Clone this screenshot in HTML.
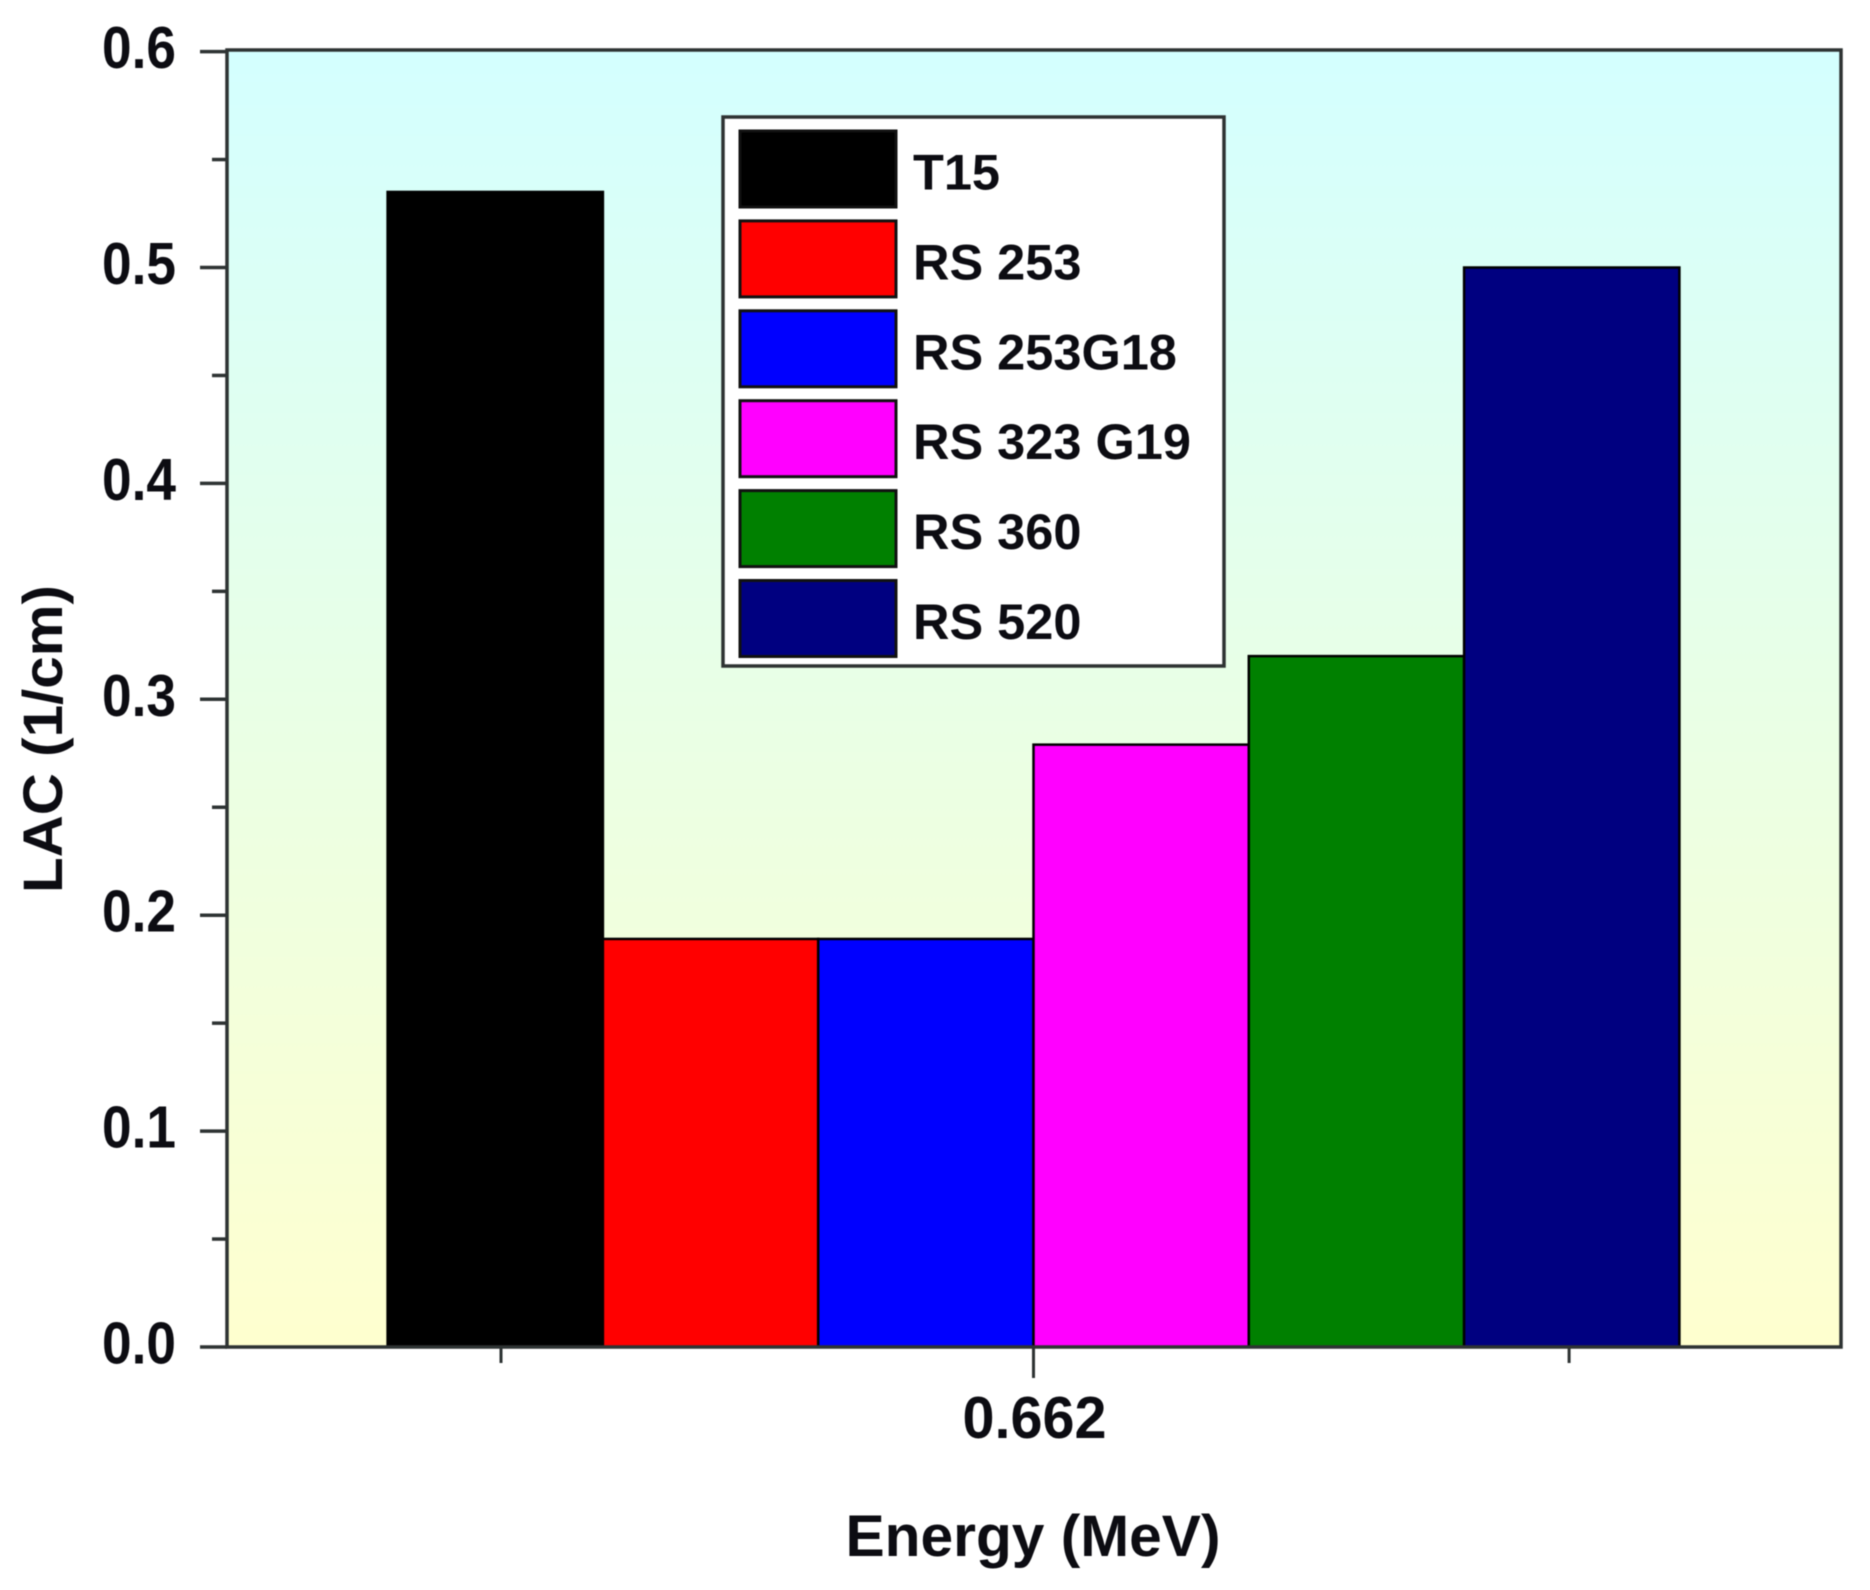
<!DOCTYPE html>
<html lang="en">
<head>
<meta charset="utf-8">
<title>LAC vs Energy</title>
<style>
html,body{margin:0;padding:0;background:#fff;width:1870px;height:1590px;overflow:hidden}
svg{display:block;filter:blur(.6px)}
text{font-family:"Liberation Sans",sans-serif;font-weight:bold;fill:#0c0c12}
</style>
</head>
<body>
<svg id="chart" width="1870" height="1590" viewBox="0 0 1870 1590" xmlns="http://www.w3.org/2000/svg">
<defs>
<linearGradient id="plot-gradient" x1="0" y1="0" x2="0" y2="1">
<stop offset="0" stop-color="#d4ffff"/>
<stop offset="0.5" stop-color="#e9ffe6"/>
<stop offset="1" stop-color="#ffffcf"/>
</linearGradient>
</defs>
<rect x="227" y="50" width="1614" height="1297" fill="url(#plot-gradient)"/>
<g id="bars"></g>
<g id="axes"></g>
<g id="legend"></g>
<text transform="translate(62,739) rotate(-90)" text-anchor="middle" font-size="56" textLength="308" lengthAdjust="spacingAndGlyphs">LAC (1/cm)</text>
<text x="1033" y="1556" text-anchor="middle" font-size="58" textLength="375" lengthAdjust="spacingAndGlyphs">Energy (MeV)</text>
</svg>
<script>
const categories = ["T15", "RS 253", "RS 253G18", "RS 323 G19", "RS 360", "RS 520"];
const lacValues = [0.535, 0.189, 0.189, 0.279, 0.32, 0.5];
const barColors = ["#000000", "#ff0000", "#0000ff", "#ff00ff", "#008000", "#000080"];
const yMajorTicks = [0, 0.1, 0.2, 0.3, 0.4, 0.5, 0.6];
const yMinorTicks = [0.05, 0.15, 0.25, 0.35, 0.45, 0.55];
const xMajorTicks = ["0.662"];

const NS = "http://www.w3.org/2000/svg";
const plot = {left: 227, right: 1841, top: 50, bottom: 1347};
const pixelsPerUnit = 2159;
const barStart = 387.6;
const barWidth = 215.3;

function yScale(v) {
  return plot.bottom - v * pixelsPerUnit;
}
function xBand(i) {
  return barStart + i * barWidth;
}
function make(tag, attrs, parent) {
  const el = document.createElementNS(NS, tag);
  for (const k in attrs) el.setAttribute(k, attrs[k]);
  parent.appendChild(el);
  return el;
}

const barsG = document.getElementById("bars");
const axesG = document.getElementById("axes");
const legendG = document.getElementById("legend");

lacValues.forEach(function (v, i) {
  const bar = make("rect", {
    x: xBand(i), y: yScale(v), width: barWidth, height: plot.bottom - yScale(v),
    fill: barColors[i], stroke: "#000", "stroke-width": 2.5
  }, barsG);
  
  
});

const axisColor = "#2e3333";
const frame = make("rect", {
  x: plot.left, y: plot.top, width: plot.right - plot.left, height: plot.bottom - plot.top,
  fill: "none", stroke: axisColor, "stroke-width": 3.5
}, axesG);



yMajorTicks.forEach(function (v) {
  const y = yScale(v);
  const tick = make("line", {x1: plot.left - 27, x2: plot.left, y1: y, y2: y, stroke: axisColor, "stroke-width": 3.5}, axesG);
  
  
  const label = make("text", {
    x: 176, y: y + 16.5, "text-anchor": "end", "font-size": 59,
    textLength: 74, lengthAdjust: "spacingAndGlyphs"
  }, axesG);
  label.textContent = v.toFixed(1);
  
  
});

yMinorTicks.forEach(function (v) {
  const y = yScale(v);
  const tick = make("line", {x1: plot.left - 15, x2: plot.left, y1: y, y2: y, stroke: axisColor, "stroke-width": 3.5}, axesG);
  
  
});

const xTickCentre = xBand(3);
[xBand(0) + 113.4, xBand(5) + 105].forEach(function (x) {
  const tick = make("line", {x1: x, x2: x, y1: plot.bottom, y2: plot.bottom + 16, stroke: axisColor, "stroke-width": 3}, axesG);
  
  
});
xMajorTicks.forEach(function (t) {
  const tick = make("line", {x1: xTickCentre, x2: xTickCentre, y1: plot.bottom, y2: plot.bottom + 31, stroke: axisColor, "stroke-width": 3}, axesG);
  
  
  const label = make("text", {
    x: xTickCentre + 1, y: 1438, "text-anchor": "middle", "font-size": 59,
    textLength: 144, lengthAdjust: "spacingAndGlyphs"
  }, axesG);
  label.textContent = t;
  
  
});

const legendBox = make("rect", {x: 723, y: 117, width: 501, height: 549, fill: "#fff", stroke: axisColor, "stroke-width": 3.5}, legendG);



categories.forEach(function (name, i) {
  const rowTop = 131 + i * 89.9;
  const swatch = make("rect", {x: 740, y: rowTop, width: 156, height: 76, fill: barColors[i], stroke: "#111", "stroke-width": 3}, legendG);
  
  
  const label = make("text", {x: 913, y: rowTop + 58.5, "font-size": 50.5}, legendG);
  label.textContent = name;
  
  
});
</script>
</body>
</html>
